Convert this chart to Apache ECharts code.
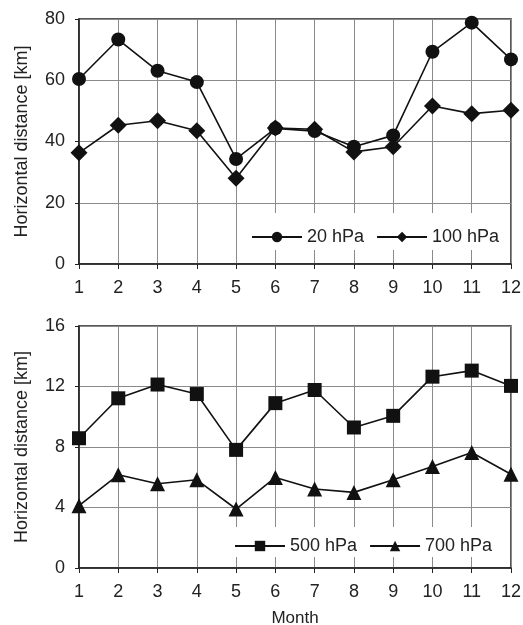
<!DOCTYPE html>
<html>
<head>
<meta charset="utf-8">
<script src="https://cdn.jsdelivr.net/npm/echarts@6/dist/echarts.min.js"></script>
<style>
  html, body { margin: 0; padding: 0; background: #fff; }
  #main { width: 523px; height: 625px; }
</style>
</head>
<body>
<div id="main"></div>
<script>
// months 1..12
const months = [1, 2, 3, 4, 5, 6, 7, 8, 9, 10, 11, 12];

// top panel
const hPa20 = [60.4, 73.3, 63.1, 59.4, 34.3, 44.3, 43.4, 38.3, 42.0, 69.3, 78.8, 66.8];
const hPa100 = [36.3, 45.3, 46.8, 43.5, 28.0, 44.4, 44.0, 36.6, 38.3, 51.6, 49.1, 50.2];

// bottom panel
const hPa500 = [8.58, 11.22, 12.13, 11.5, 7.81, 10.9, 11.77, 9.29, 10.06, 12.65, 13.05, 12.04];
const hPa700 = [4.12, 6.16, 5.57, 5.83, 3.9, 5.99, 5.22, 5.0, 5.83, 6.71, 7.64, 6.2];

const pairs = (ys) => months.map((m, i) => [m, ys[i]]);

const txt = '#222';
const font = 'Liberation Sans, Arial, sans-serif';

const xAx = (gi, withName) => ({
  type: 'value',
  gridIndex: gi,
  min: 1, max: 12, interval: 1,
  axisLine: { show: true, lineStyle: { color: '#222', width: 1.5 } },
  axisTick: { show: true, length: 5, lineStyle: { color: '#222' } },
  axisLabel: { color: txt, fontSize: 18, fontFamily: font, margin: 15 },
  splitLine: { show: true, lineStyle: { color: '#8a8a8a', width: 1 } },
  name: withName ? 'Month' : '',
  nameLocation: 'middle',
  nameGap: 42,
  nameTextStyle: { color: txt, fontSize: 17, fontFamily: font }
});

const yAx = (gi, max, step) => ({
  type: 'value',
  gridIndex: gi,
  min: 0, max: max, interval: step,
  axisLine: { show: true, lineStyle: { color: '#222', width: 1.5 } },
  axisTick: { show: true, length: 4, lineStyle: { color: '#222' } },
  axisLabel: { color: txt, fontSize: 18, fontFamily: font, margin: 14 },
  splitLine: { show: true, lineStyle: { color: '#8a8a8a', width: 1 } },
  name: 'Horizontal distance [km]',
  nameLocation: 'middle',
  nameGap: 48,
  nameRotate: 90,
  nameTextStyle: { color: txt, fontSize: 18, fontFamily: font }
});

const line = (name, data, sym, size, gi) => ({
  name: name,
  type: 'line',
  xAxisIndex: gi,
  yAxisIndex: gi,
  data: pairs(data),
  symbol: sym,
  symbolSize: size,
  showAllSymbol: true,
  lineStyle: { color: '#111', width: 1.6 },
  itemStyle: { color: '#111' },
  z: 5
});

const legendBase = {
  backgroundColor: '#fff',
  itemWidth: 50,
  itemHeight: 13,
  itemGap: 12,
  textStyle: { color: txt, fontSize: 18, fontFamily: font },
  z: 4
};

const chart = echarts.init(document.getElementById('main'));
chart.setOption({
  backgroundColor: '#fff',
  animation: false,
  grid: [
    { left: 79, right: 12, top: 19, height: 245, show: true, borderColor: '#222', borderWidth: 1.5, outerBoundsMode: 'none' },
    { left: 79, right: 12, top: 326, height: 242, show: true, borderColor: '#222', borderWidth: 1.5, outerBoundsMode: 'none' }
  ],
  xAxis: [xAx(0, false), xAx(1, true)],
  yAxis: [yAx(0, 80, 20), yAx(1, 16, 4)],
  legend: [
    Object.assign({}, legendBase, { data: ['20 hPa', '100 hPa'], left: 245, top: 213, padding: [15, 6, 4, 6] }),
    Object.assign({}, legendBase, { data: ['500 hPa', '700 hPa'], left: 228, top: 527, padding: [10, 6, 2, 6] })
  ],
  series: [
    line('20 hPa', hPa20, 'circle', 14, 0),
    line('100 hPa', hPa100, 'diamond', 17, 0),
    line('500 hPa', hPa500, 'rect', 14, 1),
    line('700 hPa', hPa700, 'triangle', 15, 1)
  ]
});
</script>
</body>
</html>
